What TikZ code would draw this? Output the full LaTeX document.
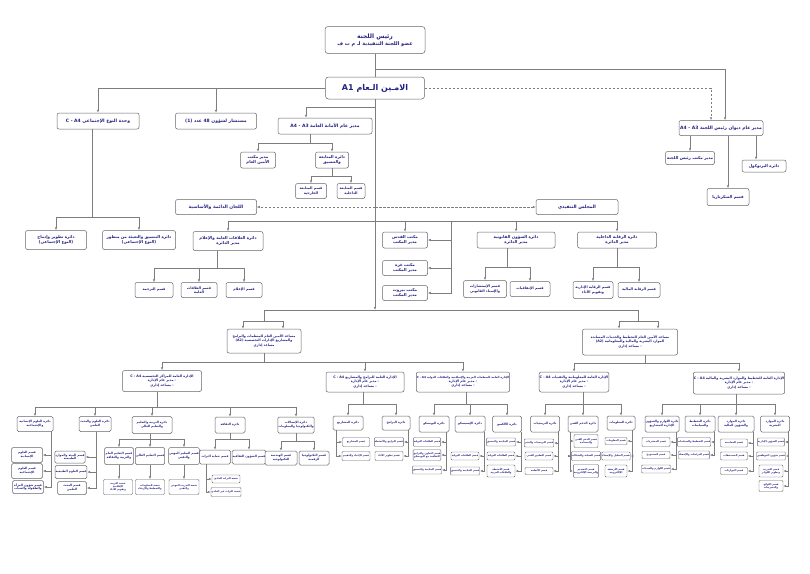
\documentclass[tikz,border=0pt]{standalone}
\usepackage{fontspec}
\usepackage{tikz}
\usetikzlibrary{arrows.meta, positioning}
\newfontfamily\arabicfont[Script=Arabic]{DejaVu Sans}
\TeXXeTstate=1
\newcommand{\ar}[1]{\beginR #1\endR}
\newcommand{\lat}[1]{\beginL #1\endL{}}
\definecolor{orgnavy}{RGB}{36,32,128}
\definecolor{boxgray}{RGB}{100,100,108}
\definecolor{linegray}{RGB}{125,125,125}
\tikzstyle{orgbox} = [draw=boxgray, line width=0.5pt, rounded corners=2pt, fill=white, text=orgnavy, align=center, inner sep=0.5pt]
\tikzstyle{headbox} = [orgbox, rounded corners=3pt, font=\arabicfont\bfseries\fontsize{5}{7}\selectfont]
\tikzstyle{sgbox} = [orgbox, rounded corners=3pt, font=\arabicfont\bfseries\fontsize{8}{9}\selectfont]
\tikzstyle{unitbox} = [orgbox, font=\arabicfont\bfseries\fontsize{4.5}{5.5}\selectfont]
\tikzstyle{deptbox} = [orgbox, font=\arabicfont\bfseries\fontsize{4}{5}\selectfont]
\tikzstyle{sectbox} = [orgbox, font=\arabicfont\bfseries\fontsize{3.5}{4.3}\selectfont]
\tikzstyle{lvlbox} = [orgbox, font=\arabicfont\bfseries\fontsize{3.3}{4.3}\selectfont]
\tikzstyle{subbox} = [orgbox, rounded corners=1.5pt, font=\arabicfont\bfseries\fontsize{3}{3.7}\selectfont]
\tikzstyle{tinybox} = [orgbox, rounded corners=1pt, line width=0.4pt, font=\arabicfont\bfseries\fontsize{2.5}{3}\selectfont]
\tikzstyle{link} = [draw=linegray, line width=0.6pt]
\tikzstyle{arr} = [link, -{Latex[length=3pt, width=2.4pt]}]
\tikzstyle{darr} = [arr, dash pattern=on 2.5pt off 1.5pt]
\tikzset{boxsize/.style 2 args={minimum width=#1pt, minimum height=#2pt}}

\begin{document}
\begin{tikzpicture}[x=1pt, y=-1pt]
	\useasboundingbox (0, 0) rectangle (810, 573);
	\fill [white] (0, 0) rectangle (810, 573);

	% the head and the secretary general
	\node (Chair) [headbox, boxsize={100}{27}] at (375, 40) {{\fontsize{6}{8}\selectfont\ar{رئيس اللجنة}}\\\ar{عضو اللجنة التنفيذية لـ م ت ف}};
	\node (SecGen) [sgbox, boxsize={99}{22}] at (375, 88) {\ar{الامـين الـعام \lat{A1}}};
	\coordinate (ChairBranch) at (375, 69);
	\draw [link] (Chair) -- (SecGen);

	% office of the head
	\node (Diwan) [unitbox, boxsize={84}{15}] at (721, 128) {\ar{مدير عام ديوان رئيس اللجنة \lat{A4 - A3}}};
	\draw [arr] (ChairBranch) -| ([xshift=4pt]Diwan.north);
	\draw [darr] (SecGen) -| ([xshift=-10pt]Diwan.north);
	\node (ChairOffice) [deptbox, boxsize={49}{13}] at (690, 158) {\ar{مدير مكتب رئيس اللجنة}};
	\node (Secretariat) [deptbox, boxsize={42}{17}] at (728, 197) {\ar{قسم السكرتاريا}};
	\node (Protocol) [deptbox, boxsize={44}{12}] at (764, 166) {\ar{دائرة البرتوكول}};
	\coordinate (ProtocolIn) at ([xshift=35pt]Diwan.south);
	\draw [arr] (Diwan.south -| ChairOffice) -- (ChairOffice);
	\draw [arr] (Diwan.south -| Secretariat) -- (Secretariat);
	\draw [arr] (ProtocolIn) -- (ProtocolIn |- Protocol.north);

	% gender unit and advisor
	\node (Gender) [unitbox, boxsize={82}{16}] at (98, 121) {\ar{وحدة النوع الإجتماعي \lat{C - A4}}};
	\node (Advisor) [unitbox, boxsize={81}{16}] at (216, 121) {\ar{مستشار لشؤون \lat{48} عدد \lat{(1)}}};
	\draw [arr] (SecGen) -| (Gender);
	\draw [arr] (SecGen) -| (Advisor);
	\node (GenderDev) [deptbox, boxsize={61}{19}] at (56, 240) {\ar{دائرة تطوير وإدماج}\\\ar{(النوع الإجتماعي)}};
	\node (GenderCoord) [deptbox, boxsize={73}{19}] at (139, 240) {\ar{دائرة التنسيق والتعبئة من منظور}\\\ar{(النوع الإجتماعي)}};
	\coordinate (GenderBus) at (92, 217);
	\draw [link] (GenderBus |- Gender.south) -- (GenderBus);
	\draw [arr] (GenderBus) -| (GenderDev);
	\draw [arr] (GenderBus) -| (GenderCoord);

	% general secretariat
	\node (GenSec) [unitbox, boxsize={94}{16}] at (325, 126) {\ar{مدير عام الأمانة العامة \lat{A4 - A3}}};
	\coordinate (SecBranch) at (375, 107);
	\draw [arr] (SecBranch) -| ([xshift=-19pt]GenSec.north);
	\node (SecOffice) [deptbox, boxsize={35}{16}] at (258, 160) {\ar{مدير مكتب}\\\ar{الأمين العام}};
	\node (FollowUp) [deptbox, boxsize={33}{16}] at (332, 160) {\ar{دائرة المتابعة}\\\ar{والتنسيق}};
	\coordinate (GenSecBus) at (310, 143);
	\draw [link] (GenSecBus |- GenSec.south) -- (GenSecBus);
	\draw [arr] (GenSecBus) -| (SecOffice);
	\draw [arr] (GenSecBus) -| (FollowUp);
	\node (FollowExt) [sectbox, boxsize={31}{15}] at (311, 191) {\ar{قسم المتابعة}\\\ar{الخارجية}};
	\node (FollowInt) [sectbox, boxsize={28}{15}] at (351, 191) {\ar{قسم المتابعة}\\\ar{الداخلية}};
	\coordinate (FollowBus) at (332, 176);
	\draw [link] (FollowUp) -- (FollowBus);
	\draw [arr] (FollowBus) -| (FollowExt);
	\draw [arr] (FollowBus) -| (FollowInt);

	% committees and the executive council
	\node (Committees) [unitbox, boxsize={81}{15}] at (216, 207) {\ar{اللجان الدائمة والأساسية}};
	\node (Council) [unitbox, boxsize={82}{15}] at (577, 207) {\ar{المجلس التنفيذي}};
	\coordinate (DashMid) at (375, 207);
	\draw [darr] (DashMid) -- (Committees);
	\draw [darr] (DashMid) -- (Council);
	\coordinate (CouncilBus) at (375, 221);
	\coordinate (OfficeSide) at (451, 221);

	% public relations
	\node (PR) [deptbox, boxsize={70}{19}] at (228, 241) {\ar{دائرة العلاقات العامة والإعلام}\\\ar{مدير الدائرة}};
	\draw [arr] (CouncilBus) -| (PR);
	\node (Translation) [sectbox, boxsize={38}{15}] at (154, 290) {\ar{قسم الترجمة}};
	\node (PublicRel) [sectbox, boxsize={36}{15}] at (199, 290) {\ar{قسم العلاقات}\\\ar{العامة}};
	\node (Media) [sectbox, boxsize={36}{15}] at (244, 290) {\ar{قسم الإعلام}};
	\coordinate (PRBus) at (217, 268);
	\draw [link] (PRBus |- PR.south) -- (PRBus);
	\draw [arr] (PRBus) -| (Translation);
	\draw [arr] (PRBus) -| (PublicRel);
	\draw [arr] (PRBus) -| (Media);

	% offices
	\node (Quds) [deptbox, boxsize={45}{16}] at (405, 240) {\ar{مكتب القدس}\\\ar{مدير المكتب}};
	\node (Gaza) [deptbox, boxsize={45}{15}] at (405, 268) {\ar{مكتب غزة}\\\ar{مدير المكتب}};
	\node (Beirut) [deptbox, boxsize={45}{15}] at (405, 293) {\ar{مكتب بيروت}\\\ar{مدير المكتب}};
	\draw [arr] (CouncilBus) -| (Quds);
	\draw [arr] (OfficeSide) |- (Quds);
	\draw [arr] (OfficeSide) |- (Gaza);
	\draw [arr] (OfficeSide) |- (Beirut);

	% legal affairs
	\node (Legal) [deptbox, boxsize={78}{16}] at (516, 240) {\ar{دائرة الشؤون القانونية}\\\ar{مدير الدائرة}};
	\draw [arr] (CouncilBus) -| (Legal);
	\node (Consult) [sectbox, boxsize={43}{17}] at (485, 289) {\ar{قسم الإستشارات}\\\ar{والإسناد القانوني}};
	\node (Agreements) [sectbox, boxsize={40}{15}] at (530, 289) {\ar{قسم الإتفاقيات}};
	\coordinate (LegalBus) at (507, 267);
	\draw [link] (LegalBus |- Legal.south) -- (LegalBus);
	\draw [arr] (LegalBus) -| (Consult);
	\draw [arr] (LegalBus) -| (Agreements);

	% internal audit
	\node (Audit) [deptbox, boxsize={79}{16}] at (617, 240) {\ar{دائرة الرقابة الداخلية}\\\ar{مدير الدائرة}};
	\draw [arr] (CouncilBus) -| (Audit);
	\node (AdminAudit) [sectbox, boxsize={40}{17}] at (593, 290) {\ar{قسم الرقابة الإدارية}\\\ar{وتقويم الأداء}};
	\node (FinAudit) [sectbox, boxsize={42}{15}] at (639, 290) {\ar{قسم الرقابة المالية}};
	\coordinate (AuditBus) at (617, 267);
	\draw [link] (Audit) -- (AuditBus);
	\draw [arr] (AuditBus) -| (AdminAudit);
	\draw [arr] (AuditBus) -| (FinAudit);

	% assistants of the secretary general
	\coordinate (MainBus) at (375, 310);
	\draw [arr] (SecGen) -- (MainBus);
	\node (AsstPrograms) [lvlbox, boxsize={74}{24}] at (264, 341) {\ar{مساعد الأمين العام للمنظمات والبرامج}\\\ar{والمشاريع الإدارات التخصصية \lat{(A2)}}\\[1pt]\ar{مساعد إداري}};
	\node (AsstPlanning) [lvlbox, boxsize={95}{26}] at (630, 342) {\ar{مساعد الأمين العام للتخطيط والخدمات المساندة}\\\ar{الموارد البشرية والمالية والمعلوماتية \lat{(A2)}}\\[1pt]\ar{- مساعد إداري}};
	\coordinate (AsstLeftBus) at (264, 321);
	\coordinate (AsstRightBus) at (638, 321);
	\draw [link] (MainBus) -| (AsstLeftBus);
	\draw [link] (MainBus) -| (AsstRightBus);
	\draw [arr] (AsstLeftBus) -| ([xshift=-21pt]AsstPrograms.north);
	\draw [arr] (AsstLeftBus) -| ([xshift=19pt]AsstPrograms.north);
	\draw [arr] (AsstRightBus) -| ([xshift=-11pt]AsstPlanning.north);
	\draw [arr] (AsstRightBus) -| ([xshift=28pt]AsstPlanning.north);

	% general directorates
	\node (Centers) [lvlbox, boxsize={79}{21}] at (162, 381) {\ar{الإدارة العامة للمراكز التخصصية \lat{C - A4}}\\\ar{- مدير عام الإدارة}\\\ar{- مساعد إداري}};
	\node (Programs) [lvlbox, boxsize={78}{20}] at (365, 382) {\ar{الإدارة العامة للبرامج والمشاريع \lat{C - A4}}\\\ar{- مدير عام الإدارة}\\\ar{- مساعد إداري}};
	\node (Orgs) [lvlbox, boxsize={87}{20}] at (463, 382) {{\fontsize{2.8}{4.3}\selectfont\ar{الإدارة العامة للمنظمات العربية والإسلامية والعلاقات الدولية \lat{C - A4}}}\\\ar{- مدير عام الإدارة}\\\ar{- مساعد إداري}};
	\node (Info) [lvlbox, boxsize={69}{20}] at (574, 382) {\ar{الإدارة العامة للمعلوماتية والتقنيات \lat{C - A4}}\\\ar{- مدير عام الإدارة}\\\ar{- مساعد إداري}};
	\node (Planning) [lvlbox, boxsize={82}{22}] at (739, 383) {\ar{الإدارة العامة للتخطيط والموارد البشرية والمالية \lat{C - A4}}\\\ar{- مدير عام الإدارة}\\\ar{- مساعد إداري}};
	\coordinate (LowerLeftBus) at (264, 362);
	\draw [link] (AsstPrograms) -- (LowerLeftBus);
	\draw [arr] (LowerLeftBus) -| (Centers);
	\draw [arr] (LowerLeftBus) -| (Programs);
	\draw [arr] (LowerLeftBus) -| (Orgs);
	\coordinate (LowerRightBus) at (645, 363);
	\draw [link] (LowerRightBus |- AsstPlanning.south) -- (LowerRightBus);
	\draw [arr] (LowerRightBus) -| (Info);
	\draw [arr] (LowerRightBus) -| (Planning);

	% specialised centers
	\node (Humanities) [subbox, boxsize={36}{15}] at (35, 424) {\ar{دائرة العلوم الإنسانية}\\\ar{والإجتماعية}};
	\node (Science) [subbox, boxsize={32}{15}] at (95, 424) {\ar{دائرة العلوم والبحث}\\\ar{العلمي}};
	\node (Education) [subbox, boxsize={40}{17}] at (152, 425) {\ar{دائرة التربية والتعليم}\\\ar{والتعليم العالي}};
	\node (Culture) [subbox, boxsize={30}{16}] at (230, 425) {\ar{دائرة الثقافة}};
	\node (Telecom) [subbox, boxsize={34}{16}] at (296, 425) {\ar{دائرة الإتصالات}\\\ar{والتكنولوجيا والمعلومات}};
	\coordinate (CentersBus) at (157, 407);
	\draw [link] (CentersBus |- Centers.south) -- (CentersBus);
	\draw [arr] (CentersBus) -| (Humanities);
	\draw [arr] (CentersBus) -| (Science);
	\draw [arr] (CentersBus) -| (Education);
	\draw [arr] (CentersBus) -| (Culture);
	\draw [arr] (CentersBus) -| (Telecom);

	\node (HumA) [subbox, boxsize={31}{15}] at (27, 455) {\ar{قسم العلوم}\\\ar{الإنسانية}};
	\node (HumB) [subbox, boxsize={31}{15}] at (27, 471) {\ar{قسم العلوم}\\\ar{الإجتماعية}};
	\node (HumC) [subbox, boxsize={31}{13}] at (28, 487) {\ar{قسم شؤون المرأة}\\\ar{والطفولة والشباب}};
	\coordinate (HumSide) at ([xshift=16pt]Humanities.south);
	\draw [arr] (HumSide) |- (HumA);
	\draw [arr] (HumSide) |- (HumB);
	\draw [arr] (HumSide) |- (HumC);

	\node (SciA) [subbox, boxsize={30}{12}] at (70, 457) {\ar{قسم البيئة والموارد}\\\ar{الطبيعية}};
	\node (SciB) [subbox, boxsize={30}{13}] at (71, 472) {\ar{قسم العلوم الطبيعية}};
	\node (SciC) [subbox, boxsize={29}{13}] at (72, 488) {\ar{قسم البحث}\\\ar{العلمي}};
	\coordinate (SciSide) at ([xshift=1pt]Science.south);
	\draw [arr] (SciSide) |- (SciA);
	\draw [arr] (SciSide) |- (SciB);
	\draw [arr] (SciSide) |- (SciC);

	\node (EduA) [subbox, boxsize={29}{17}] at (119, 456) {\ar{قسم التعليم العام}\\\ar{والتربية والثقافة}};
	\node (EduB) [subbox, boxsize={28}{17}] at (150, 456) {\ar{قسم التعليم العالي}};
	\node (EduC) [subbox, boxsize={30}{17}] at (184, 456) {\ar{قسم التعليم المهني}\\\ar{والتقني}};
	\node (EduAA) [tinybox, boxsize={29}{15}] at (118, 487) {\ar{شعبة التربية}\\\ar{الإعلامية}\\\ar{وتقويم الأداء}};
	\node (EduBB) [tinybox, boxsize={29}{15}] at (150, 487) {\ar{شعبة المعلومات}\\\ar{والتخطيط والإرشاد}};
	\node (EduCC) [tinybox, boxsize={30}{15}] at (184, 487) {\ar{شعبة التدريب المهني}\\\ar{والتقني}};
	\coordinate (EduBus) at (150, 439);
	\draw [link] (EduBus |- Education.south) -- (EduBus);
	\draw [arr] (EduBus) -| (EduA);
	\draw [arr] (EduBus) -| (EduB);
	\draw [arr] (EduBus) -| (EduC);
	\draw [arr] (EduA) -- (EduA |- EduAA.north);
	\draw [arr] (EduB) -- (EduBB);
	\draw [arr] (EduC) -- (EduCC);

	\node (CulA) [subbox, boxsize={31}{14}] at (215, 457) {\ar{قسم حماية التراث}};
	\node (CulB) [subbox, boxsize={29}{14}] at (249, 457) {\ar{قسم الشؤون الثقافية}};
	\node (CulAA) [tinybox, boxsize={28}{8}] at (226, 479) {\ar{شعبة التراث المادي}};
	\node (CulAB) [tinybox, boxsize={28}{9}] at (226, 492) {\ar{شعبة التراث غير المادي}};
	\coordinate (CultureBus) at (230, 439);
	\draw [link] (Culture) -- (CultureBus);
	\draw [arr] (CultureBus) -| (CulA);
	\draw [arr] (CultureBus) -| (CulB);
	\coordinate (CulSide) at ([xshift=-9pt]CulA.south);
	\draw [arr] (CulSide) |- (CulAA);
	\draw [arr] (CulSide) |- (CulAB);

	\node (TelA) [subbox, boxsize={32}{14}] at (281, 458) {\ar{قسم الهندسة}\\\ar{التكنولوجية}};
	\node (TelB) [subbox, boxsize={30}{14}] at (314, 458) {\ar{قسم التكنولوجيا}\\\ar{الرقمية}};
	\coordinate (TelecomBus) at (296, 441);
	\draw [link] (Telecom) -- (TelecomBus);
	\draw [arr] (TelecomBus) -| (TelA);
	\draw [arr] (TelecomBus) -| (TelB);

	% programs and projects
	\node (Projects) [subbox, boxsize={30}{14}] at (348, 423) {\ar{دائرة المشاريع}};
	\node (ProgDept) [subbox, boxsize={28}{14}] at (396, 423) {\ar{دائرة البرامج}};
	\coordinate (ProgramsBus) at (363, 404);
	\draw [link] (ProgramsBus |- Programs.south) -- (ProgramsBus);
	\draw [arr] (ProgramsBus) -| (Projects);
	\draw [arr] (ProgramsBus) -| (ProgDept);
	\node (ProjA) [tinybox, boxsize={27}{9}] at (356, 442) {\ar{قسم المشاريع}};
	\node (ProjB) [tinybox, boxsize={28}{9}] at (356, 456) {\ar{قسم الإعداد والتقييم}};
	\coordinate (ProjSide) at ([xshift=-12pt]Projects.south);
	\draw [arr] (ProjSide) |- (ProjA);
	\draw [arr] (ProjSide) |- (ProjB);
	\node (ProgA) [tinybox, boxsize={28}{9}] at (389, 442) {\ar{قسم البرامج والأنشطة}};
	\node (ProgB) [tinybox, boxsize={28}{9}] at (389, 456) {\ar{قسم تطوير الأداء}};
	\coordinate (ProgSide) at ([xshift=12pt]ProgDept.south);
	\draw [arr] (ProgSide) |- (ProgA);
	\draw [arr] (ProgSide) |- (ProgB);

	% arab, islamic and international organisations
	\node (Unesco) [subbox, boxsize={30}{16}] at (434, 424) {\ar{دائرة اليونسكو}};
	\node (Isesco) [subbox, boxsize={30}{16}] at (470, 424) {\ar{دائرة الإيسيسكو}};
	\node (Alecso) [subbox, boxsize={29}{16}] at (507, 424) {\ar{دائرة الألكسو}};
	\coordinate (OrgsBus) at (466, 404);
	\draw [link] (OrgsBus |- Orgs.south) -- (OrgsBus);
	\draw [arr] (OrgsBus) -| (Unesco);
	\draw [arr] (OrgsBus) -| (Isesco);
	\draw [arr] (OrgsBus) -| (Alecso);
	\node (UnA) [tinybox, boxsize={27}{9}] at (427, 442) {\ar{قسم العلاقات الدولية}};
	\node (UnB) [tinybox, boxsize={27}{11}] at (427, 455) {\ar{قسم التعاون والبرامج}\\\ar{الثقافية مع اليونسكو}};
	\node (UnC) [tinybox, boxsize={27}{8}] at (427, 470) {\ar{قسم المتابعة والتنسيق}};
	\coordinate (UnescoSide) at ([xshift=12pt]Unesco.south);
	\draw [arr] (UnescoSide) |- (UnA);
	\draw [arr] (UnescoSide) |- (UnB);
	\draw [arr] (UnescoSide) |- (UnC);
	\node (IsA) [tinybox, boxsize={28}{8}] at (465, 456) {\ar{قسم العلاقات الدولية}};
	\node (IsB) [tinybox, boxsize={28}{8}] at (465, 471) {\ar{قسم المتابعة والتنسيق}};
	\coordinate (IsescoSide) at ([xshift=14pt]Isesco.south);
	\draw [arr] (IsescoSide) |- (IsA);
	\draw [arr] (IsescoSide) |- (IsB);
	\node (AlA) [tinybox, boxsize={28}{8}] at (501, 442) {\ar{قسم المتابعة والتنسيق}};
	\node (AlB) [tinybox, boxsize={28}{8}] at (501, 456) {\ar{قسم العلاقات الدولية}};
	\node (AlC) [tinybox, boxsize={28}{12}] at (501, 471) {\ar{قسم الأنشطة}\\\ar{والعلاقات العربية}};
	\coordinate (AlecsoSide) at ([xshift=14pt]Alecso.south);
	\draw [arr] (AlecsoSide) |- (AlA);
	\draw [arr] (AlecsoSide) |- (AlB);
	\draw [arr] (AlecsoSide) |- (AlC);

	% informatics
	\node (Software) [subbox, boxsize={29}{16}] at (545, 424) {\ar{دائرة البرمجيات}};
	\node (Support) [subbox, boxsize={30}{16}] at (583, 424) {\ar{دائرة الدعم الفني}};
	\node (InfoDept) [subbox, boxsize={28}{14}] at (621, 423) {\ar{دائرة المعلومات}};
	\coordinate (InfoBus) at (583, 404);
	\draw [link] (InfoBus |- Info.south) -- (InfoBus);
	\draw [arr] (InfoBus) -| (Software);
	\draw [arr] (InfoBus) -| (Support);
	\draw [arr] (InfoBus) -| (InfoDept);
	\node (SwA) [tinybox, boxsize={28}{8}] at (539, 443) {\ar{قسم البرمجيات والنشر}};
	\node (SwB) [tinybox, boxsize={28}{8}] at (539, 456) {\ar{قسم التطبيق الفني}};
	\node (SwC) [tinybox, boxsize={28}{7}] at (539, 471) {\ar{قسم الأنظمة}};
	\coordinate (SoftwareSide) at ([xshift=13pt]Software.south);
	\draw [arr] (SoftwareSide) |- (SwA);
	\draw [arr] (SoftwareSide) |- (SwB);
	\draw [arr] (SoftwareSide) |- (SwC);
	\node (SupA) [tinybox, boxsize={24}{13}] at (586, 441) {\ar{قسم الدعم الفني}\\\ar{والمساندة}};
	\node (SupB) [tinybox, boxsize={24}{9}] at (586, 456) {\ar{قسم الصيانة والشبكات}};
	\node (SupC) [tinybox, boxsize={24}{13}] at (586, 471) {\ar{قسم التصميم}\\\ar{والبرمجة الإلكترونية}};
	\coordinate (SupportSide) at ([xshift=-13pt]Support.south);
	\draw [arr] (SupportSide) |- (SupA);
	\draw [arr] (SupportSide) |- (SupB);
	\draw [arr] (SupportSide) |- (SupC);
	\node (InfA) [tinybox, boxsize={22}{7}] at (616, 441) {\ar{قسم المعلومات}};
	\node (InfB) [tinybox, boxsize={22}{8}] at (616, 456) {\ar{قسم التحليل والإحصاء}};
	\node (InfC) [tinybox, boxsize={22}{12}] at (616, 471) {\ar{قسم الأرشفة}\\\ar{الإلكترونية}};
	\coordinate (InfoDeptSide) at ([xshift=11pt]InfoDept.south);
	\draw [arr] (InfoDeptSide) |- (InfA);
	\draw [arr] (InfoDeptSide) |- (InfB);
	\draw [arr] (InfoDeptSide) |- (InfC);

	% planning and resources
	\node (Supplies) [subbox, boxsize={30}{16}] at (662, 424) {\ar{دائرة اللوازم والشؤون}\\\ar{الإدارية للمشاريع}};
	\node (Policy) [subbox, boxsize={30}{16}] at (700, 424) {\ar{دائرة التخطيط}\\\ar{والسياسات}};
	\node (Finance) [subbox, boxsize={36}{16}] at (736, 424) {\ar{دائرة الموارد}\\\ar{والشؤون المالية}};
	\node (HR) [subbox, boxsize={29}{16}] at (775, 424) {\ar{دائرة الموارد}\\\ar{البشرية}};
	\coordinate (PlanningBus) at (736, 404);
	\draw [link] (PlanningBus |- Planning.south) -- (PlanningBus);
	\draw [arr] (PlanningBus) -| (Supplies);
	\draw [arr] (PlanningBus) -| (Policy);
	\draw [arr] (PlanningBus) -| (Finance);
	\draw [arr] (PlanningBus) -| (HR);
	\node (SupplA) [tinybox, boxsize={28}{9}] at (656, 442) {\ar{قسم المشتريات}};
	\node (SupplB) [tinybox, boxsize={28}{7}] at (656, 455) {\ar{قسم المستودع}};
	\node (SupplC) [tinybox, boxsize={28}{8}] at (656, 469) {\ar{قسم اللوازم والخدمات}};
	\coordinate (SuppliesSide) at ([xshift=14pt]Supplies.south);
	\draw [arr] (SuppliesSide) |- (SupplA);
	\draw [arr] (SuppliesSide) |- (SupplB);
	\draw [arr] (SuppliesSide) |- (SupplC);
	\node (PolA) [tinybox, boxsize={28}{9}] at (694, 442) {\ar{قسم التخطيط والسياسات}};
	\node (PolB) [tinybox, boxsize={28}{8}] at (694, 455) {\ar{قسم الدراسات والإحصاء}};
	\coordinate (PolicySide) at ([xshift=14pt]Policy.south);
	\draw [arr] (PolicySide) |- (PolA);
	\draw [arr] (PolicySide) |- (PolB);
	\node (FinA) [tinybox, boxsize={27}{8}] at (734, 443) {\ar{قسم المحاسبة}};
	\node (FinB) [tinybox, boxsize={27}{8}] at (734, 456) {\ar{قسم المستحقات}};
	\node (FinC) [tinybox, boxsize={27}{7}] at (734, 471) {\ar{قسم الموازنات}};
	\coordinate (FinanceSide) at ([xshift=17pt]Finance.south);
	\draw [arr] (FinanceSide) |- (FinA);
	\draw [arr] (FinanceSide) |- (FinB);
	\draw [arr] (FinanceSide) |- (FinC);
	\node (HRA) [tinybox, boxsize={24}{8}] at (771, 442) {\ar{قسم الشؤون الإدارية}};
	\node (HRB) [tinybox, boxsize={24}{8}] at (771, 456) {\ar{قسم شؤون الموظفين}};
	\node (HRC) [tinybox, boxsize={24}{12}] at (771, 471) {\ar{قسم التدريب}\\\ar{وتطوير الكوادر}};
	\node (HRD) [tinybox, boxsize={24}{11}] at (771, 486) {\ar{قسم اللوائح}\\\ar{والتشريعات}};
	\coordinate (HRSide) at ([xshift=13pt]HR.south);
	\draw [arr] (HRSide) |- (HRA);
	\draw [arr] (HRSide) |- (HRB);
	\draw [arr] (HRSide) |- (HRC);
	\draw [arr] (HRSide) |- (HRD);
\end{tikzpicture}
\end{document}
